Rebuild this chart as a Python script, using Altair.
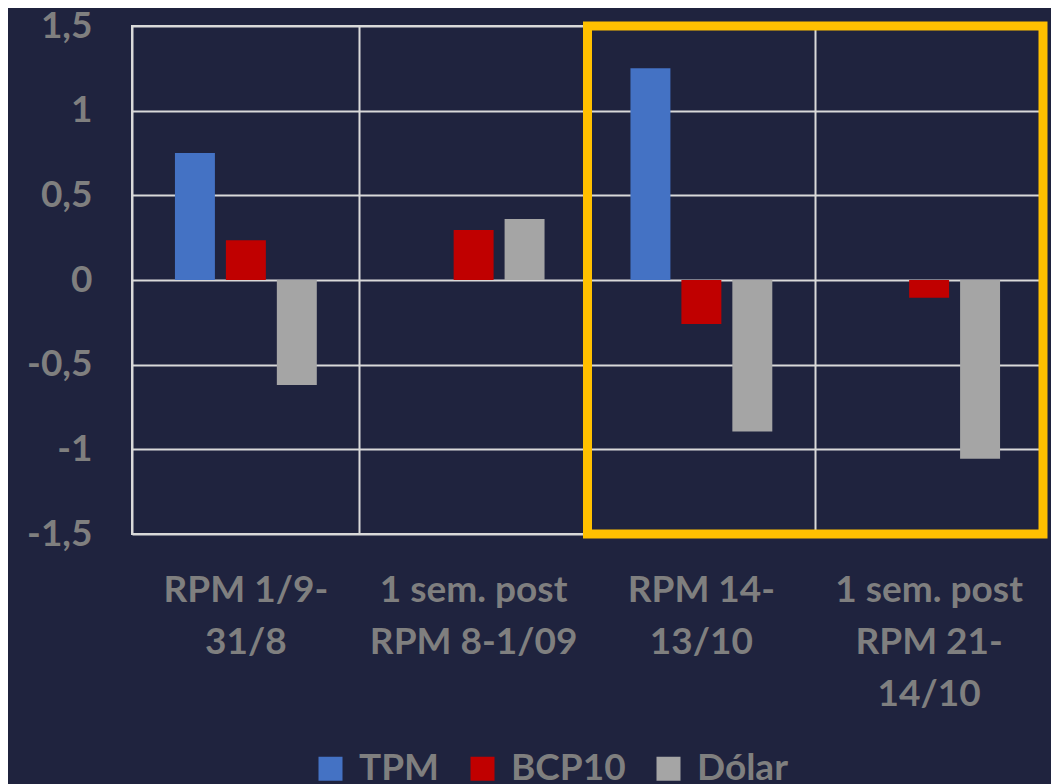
import altair as alt
import pandas as pd

categories = ["RPM 1/9-\n31/8", "1 sem. post\nRPM 8-1/09", "RPM 14-\n13/10", "1 sem. post\nRPM 21-\n14/10"]
series = ["TPM", "BCP10", "Dólar"]
tpm = [0.75, None, 1.25, None]
bcp10 = [0.235, 0.295, -0.26, -0.105]
dolar = [-0.62, 0.36, -0.895, -1.055]
colors = ["#4472C4", "#C00000", "#A5A5A5"]
y_ticks = [-1.5, -1, -0.5, 0, 0.5, 1, 1.5]

rows = []
for s, vals in zip(series, [tpm, bcp10, dolar]):
    for c, v in zip(categories, vals):
        if v is not None:
            rows.append({"cat": c, "serie": s, "valor": v})
df = pd.DataFrame(rows)

BG = "#1F233E"
TXT = "#7F7F7F"
GRID = "#D9D9D9"
FONT = "Lato"
FS = 37

x_enc = alt.X("cat:N", sort=categories, scale=alt.Scale(domain=categories, paddingInner=0, paddingOuter=0),
              axis=alt.Axis(title=None, grid=True, bandPosition=0, ticks=False, domain=False,
                            labelExpr="split(datum.label, '\\n')", labelAngle=0, labelLimit=500,
                            labelFont=FONT, labelFontWeight="bold", labelFontSize=FS,
                            labelColor=TXT, labelPadding=38, labelLineHeight=52,
                            labelBaseline="top", gridColor=GRID, gridWidth=2))

y_enc = alt.Y("valor:Q", scale=alt.Scale(domain=[-1.5, 1.5], nice=False),
              axis=alt.Axis(title=None, values=y_ticks, ticks=False, domain=False,
                            labelExpr="replace(datum.value + '', '.', ',')",
                            labelFont=FONT, labelFontWeight="bold", labelFontSize=FS,
                            labelColor=TXT, labelPadding=40, gridColor=GRID, gridWidth=2))

bars = alt.Chart(df).mark_bar().encode(
    x=x_enc,
    xOffset=alt.XOffset("serie:N", sort=series,
                        scale=alt.Scale(domain=series, paddingInner=0.2157, paddingOuter=0.843)),
    y=y_enc,
    color=alt.Color("serie:N", sort=series, scale=alt.Scale(domain=series, range=colors),
                    legend=alt.Legend(title=None, orient="none", direction="horizontal",
                                      legendX=180, legendY=724,
                                      symbolType="square", symbolSize=576, symbolStrokeWidth=0,
                                      labelFont=FONT, labelFontWeight="bold", labelFontSize=FS,
                                      labelColor=TXT, columnPadding=24, labelOffset=10)),
)

box = alt.Chart(pd.DataFrame({"a": [0]})).mark_rect(filled=False, stroke="#FFC000", strokeWidth=9).encode(
    x=alt.XDatum(categories[2], bandPosition=0),
    x2=alt.X2Datum(categories[3], bandPosition=1),
    y=alt.YDatum(1.5),
    y2=alt.Y2Datum(-1.5),
)

chart = alt.layer(bars, box).properties(
    width=911, height=508,
    background=BG,
    padding={"left": 124, "top": 18, "right": 8, "bottom": 262},
    autosize=alt.AutoSizeParams(type="none"),
).configure_view(stroke=GRID, strokeWidth=2)

chart.save("out.html", embed_options={"renderer": "svg", "actions": False})
